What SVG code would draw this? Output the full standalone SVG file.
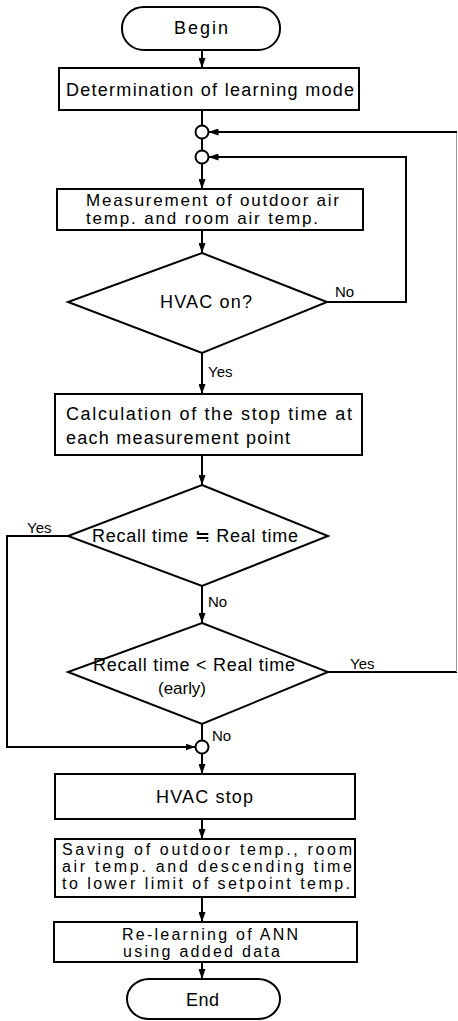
<svg xmlns="http://www.w3.org/2000/svg" width="458" height="1021" viewBox="0 0 458 1021">
<style>
.box{fill:#fff;stroke:#000;stroke-width:2}
.ln{fill:none;stroke:#000;stroke-width:2}
.faint{fill:none;stroke:#999;stroke-width:1}
.t{font-family:"Liberation Sans",Arial,sans-serif;font-size:18px;fill:#000}
.m{font-family:"Liberation Sans",Arial,sans-serif;font-size:17px;fill:#000}
.s{font-family:"Liberation Sans",Arial,sans-serif;font-size:16px;fill:#000}
.lb{font-family:"Liberation Sans",Arial,sans-serif;font-size:15px;fill:#000}
</style>
<defs>
<marker id="arr" viewBox="0 0 10 7" refX="10" refY="3.5" markerWidth="10" markerHeight="7" orient="auto" markerUnits="userSpaceOnUse">
<path d="M0,0 L10,3.5 L0,7 z" fill="#000"/>
</marker>
</defs>
<rect width="458" height="1021" fill="#fff"/>
<g id="connectors">
<path class="ln" d="M202,50 V68" marker-end="url(#arr)"/>
<path class="ln" d="M202,110 V125.5"/>
<path class="ln" d="M202,138.5 V150.5"/>
<path class="ln" d="M202,163.5 V189" marker-end="url(#arr)"/>
<path class="ln" d="M202,230 V253" marker-end="url(#arr)"/>
<path class="ln" d="M202,353 V394" marker-end="url(#arr)"/>
<path class="ln" d="M202,455 V485" marker-end="url(#arr)"/>
<path class="ln" d="M202,586 V623" marker-end="url(#arr)"/>
<path class="ln" d="M202,724 V740.5"/>
<path class="ln" d="M202,753.5 V774" marker-end="url(#arr)"/>
<path class="ln" d="M202,819 V839" marker-end="url(#arr)"/>
<path class="ln" d="M202,897 V922" marker-end="url(#arr)"/>
<path class="ln" d="M202,962 V979" marker-end="url(#arr)"/>
<path class="ln" d="M327,302 H406 V157 H208.5" marker-end="url(#arr)"/>
<path class="ln" d="M68,536 H7 V747 H195.5" marker-end="url(#arr)"/>
<path class="ln" d="M328,672 H457"/>
<path class="faint" d="M456.5,672 V132"/>
<path class="ln" d="M457,132 H208.5" marker-end="url(#arr)"/>
<text class="lb" x="335" y="297">No</text>
<text class="lb" x="208" y="377">Yes</text>
<text class="lb" x="27" y="533">Yes</text>
<text class="lb" x="208" y="607">No</text>
<text class="lb" x="350" y="669">Yes</text>
<text class="lb" x="212" y="741">No</text>
</g>
<g id="begin">
<rect class="box" x="122" y="7" width="158" height="43" rx="22" ry="21"/>
<text class="t" x="174" y="34" textLength="54" lengthAdjust="spacing">Begin</text>
</g>
<g id="determination">
<rect class="box" x="59" y="68" width="300" height="42"/>
<text class="t" x="66" y="96" textLength="288" lengthAdjust="spacing">Determination of learning mode</text>
</g>
<g id="junction1"><circle class="box" cx="202" cy="132" r="6.5"/></g>
<g id="junction2"><circle class="box" cx="202" cy="157" r="6.5"/></g>
<g id="measurement">
<rect class="box" x="57" y="189" width="306" height="41"/>
<text class="m" x="86" y="206" textLength="253" lengthAdjust="spacing">Measurement of outdoor air</text>
<text class="m" x="86" y="224" textLength="232" lengthAdjust="spacing">temp. and room air temp.</text>
</g>
<g id="hvac-on">
<polygon class="box" points="202,253 327,302 202,353 68,302"/>
<text class="t" x="160" y="308" textLength="92" lengthAdjust="spacing">HVAC on?</text>
</g>
<g id="calculation">
<rect class="box" x="55" y="394" width="307" height="61"/>
<text class="t" x="66" y="420" textLength="286" lengthAdjust="spacing">Calculation of the stop time at</text>
<text class="t" x="66" y="444" textLength="224" lengthAdjust="spacing">each measurement point</text>
</g>
<g id="recall-equal">
<polygon class="box" points="202,485 328,536 202,586 68,536"/>
<text class="t" x="92" y="542" textLength="206" lengthAdjust="spacing">Recall time ≒ Real time</text>
</g>
<g id="recall-early">
<polygon class="box" points="202,623 328,672 202,724 68,672"/>
<text class="t" x="93" y="671" textLength="202" lengthAdjust="spacing">Recall time &lt; Real time</text>
<text class="m" x="158" y="694" textLength="48" lengthAdjust="spacing">(early)</text>
</g>
<g id="junction3"><circle class="box" cx="202" cy="747" r="6.5"/></g>
<g id="hvac-stop">
<rect class="box" x="55" y="774" width="300" height="45"/>
<text class="t" x="156" y="803" textLength="97" lengthAdjust="spacing">HVAC stop</text>
</g>
<g id="saving">
<rect class="box" x="55" y="839" width="300" height="58"/>
<text class="s" x="62" y="855" textLength="290" lengthAdjust="spacing">Saving of outdoor temp., room</text>
<text class="s" x="62" y="872" textLength="290" lengthAdjust="spacing">air temp. and descending time</text>
<text class="s" x="62" y="889" textLength="288" lengthAdjust="spacing">to lower limit of setpoint temp.</text>
</g>
<g id="relearning">
<rect class="box" x="54" y="922" width="303" height="40"/>
<text class="s" x="122" y="940" textLength="176" lengthAdjust="spacing">Re-learning of ANN</text>
<text class="s" x="123" y="957" textLength="157" lengthAdjust="spacing">using added data</text>
</g>
<g id="end">
<rect class="box" x="127" y="979" width="153" height="40" rx="22" ry="20"/>
<text class="t" x="186" y="1006" textLength="33" lengthAdjust="spacing">End</text>
</g>
</svg>
